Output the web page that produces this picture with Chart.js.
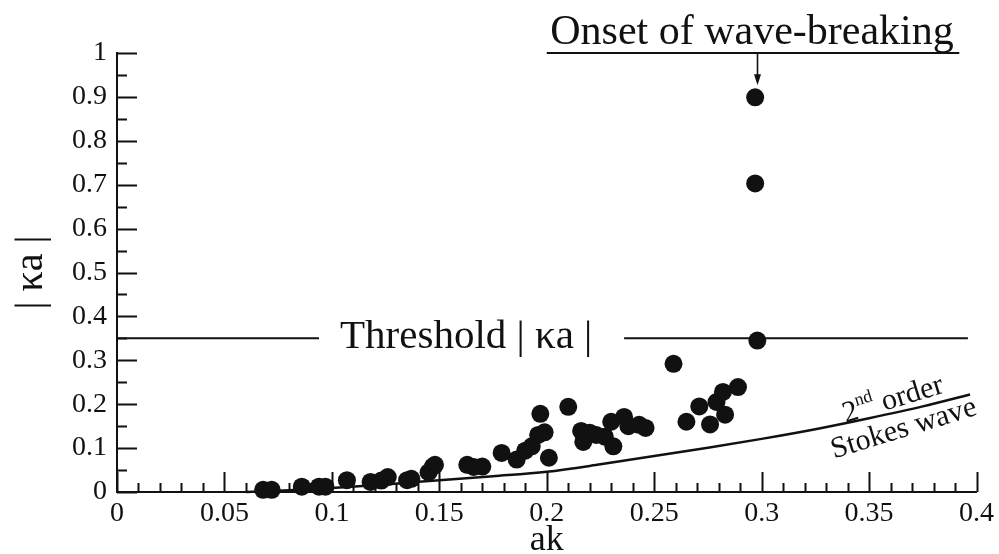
<!DOCTYPE html>
<html>
<head>
<meta charset="utf-8">
<script src="https://cdn.jsdelivr.net/npm/chart.js@4.4.1/dist/chart.umd.min.js"></script>
<style>
  html, body { margin: 0; padding: 0; background: #ffffff; }
  #wrap { width: 999px; height: 554px; }
</style>
</head>
<body>
<div id="wrap"><canvas id="chart" width="999" height="554"></canvas></div>
<script>
// Measured wave steepness ak and curvature |κa|
const akValues = [
  0.068, 0.072, 0.086, 0.094, 0.097, 0.107, 0.118, 0.123, 0.126, 0.135,
  0.137, 0.145, 0.147, 0.148, 0.163, 0.166, 0.170, 0.179, 0.186, 0.190,
  0.193, 0.196, 0.197, 0.199, 0.201, 0.210, 0.216, 0.217, 0.220, 0.223,
  0.227, 0.230, 0.231, 0.236, 0.238, 0.243, 0.246, 0.259, 0.265, 0.271,
  0.276, 0.279, 0.282, 0.283, 0.289, 0.298, 0.297, 0.297
];
const kaValues = [
  0.005, 0.005, 0.012, 0.012, 0.012, 0.027, 0.023, 0.026, 0.034, 0.027,
  0.030, 0.045, 0.058, 0.062, 0.062, 0.057, 0.058, 0.089, 0.074, 0.094,
  0.104, 0.130, 0.178, 0.136, 0.078, 0.194, 0.139, 0.114, 0.135, 0.130,
  0.126, 0.160, 0.104, 0.171, 0.150, 0.153, 0.146, 0.292, 0.160, 0.195,
  0.154, 0.205, 0.228, 0.176, 0.239, 0.345, 0.703, 0.899
];

// Second-order Stokes wave curve
const stokesAk = [0.060, 0.080, 0.100, 0.125, 0.150, 0.175, 0.200, 0.225, 0.250, 0.275, 0.300, 0.325, 0.350, 0.375, 0.397];
const stokesKa = [0.000, 0.004, 0.009, 0.017, 0.027, 0.036, 0.046, 0.063, 0.082, 0.101, 0.121, 0.143, 0.168, 0.195, 0.222];

// Threshold |κa| and the segments of its reference line
const thresholdKa = 0.35;
const thresholdLeftAk = [0.0, 0.094];
const thresholdRightAk = [0.236, 0.396];

// Onset of wave-breaking marker
const onsetLineKa = 1.0;
const onsetLineAk = [0.200, 0.392];
const onsetAk = 0.298;
const onsetKa = 0.899;

// Axis ticks
const xTicks = [0, 0.05, 0.1, 0.15, 0.2, 0.25, 0.3, 0.35, 0.4];
const xTickLabels = ['0', '0.05', '0.1', '0.15', '0.2', '0.25', '0.3', '0.35', '0.4'];
const yTicks = [0, 0.1, 0.2, 0.3, 0.4, 0.5, 0.6, 0.7, 0.8, 0.9, 1];
const yTickLabels = ['0', '0.1', '0.2', '0.3', '0.4', '0.5', '0.6', '0.7', '0.8', '0.9', '1'];

const INK = '#111111';
const SERIF = "'Liberation Serif', 'Times New Roman', serif";
Chart.defaults.font.family = SERIF;
Chart.defaults.color = INK;

const pts = (xs, ys) => xs.map((x, i) => ({ x: x, y: ys[i] }));

// Inward tick marks, annotations and arrow
const decor = {
  id: 'decor',
  beforeDatasetsDraw(chart) {
    const { ctx, chartArea: a, scales: { x, y } } = chart;
    ctx.save();
    ctx.strokeStyle = INK;
    ctx.lineWidth = 2;
    ctx.beginPath();
    for (let i = 0; i <= 40; i++) {
      const px = Math.round(x.getPixelForValue(i / 100)) + 0.5;
      const len = (i % 5 === 0) ? 20 : 9;
      ctx.moveTo(px, a.bottom);
      ctx.lineTo(px, a.bottom - len);
    }
    for (let i = 0; i <= 20; i++) {
      const py = Math.round(y.getPixelForValue(i / 20)) + 0.5;
      const len = (i % 2 === 0) ? 20 : 10;
      ctx.moveTo(a.left, py);
      ctx.lineTo(a.left + len, py);
    }
    ctx.stroke();
    ctx.restore();
  },
  afterDraw(chart) {
    const { ctx, scales: { x, y } } = chart;
    ctx.save();
    ctx.fillStyle = INK;
    ctx.strokeStyle = INK;

    // Threshold label sits in the gap of its line
    ctx.font = '41px ' + SERIF;
    ctx.textAlign = 'center';
    ctx.textBaseline = 'middle';
    ctx.fillText('Threshold | κa |', x.getPixelForValue(0.1625), y.getPixelForValue(thresholdKa) - 1);

    // Onset of wave-breaking heading
    ctx.font = '42px ' + SERIF;
    ctx.textBaseline = 'alphabetic';
    ctx.fillText('Onset of wave-breaking', x.getPixelForValue(0.2955), y.getPixelForValue(onsetLineKa) - 9);

    // Arrow from the heading line to the breaking point
    const ax = Math.round(x.getPixelForValue(onsetAk)) + 0.5;
    const y0 = y.getPixelForValue(onsetLineKa);
    const y1 = y.getPixelForValue(onsetKa) - 12;
    ctx.lineWidth = 1.6;
    ctx.beginPath();
    ctx.moveTo(ax, y0);
    ctx.lineTo(ax, y1 - 8);
    ctx.stroke();
    ctx.beginPath();
    ctx.moveTo(ax - 3.5, y1 - 11);
    ctx.lineTo(ax + 3.5, y1 - 11);
    ctx.lineTo(ax, y1);
    ctx.closePath();
    ctx.fill();

    // Curve label, rotated along the Stokes line
    const ang = -17 * Math.PI / 180;
    ctx.textBaseline = 'alphabetic';
    ctx.save();
    ctx.translate(x.getPixelForValue(0.361), y.getPixelForValue(0.212));
    ctx.rotate(ang);
    ctx.font = '30px ' + SERIF;
    const w2 = ctx.measureText('2').width;
    ctx.font = '18px ' + SERIF;
    const wnd = ctx.measureText('nd').width;
    ctx.font = '30px ' + SERIF;
    const wor = ctx.measureText(' order').width;
    let cx = -(w2 + wnd + wor) / 2;
    ctx.textAlign = 'left';
    ctx.fillText('2', cx, 9);
    cx += w2;
    ctx.font = '18px ' + SERIF;
    ctx.fillText('nd', cx, -4);
    cx += wnd;
    ctx.font = '30px ' + SERIF;
    ctx.fillText(' order', cx, 9);
    ctx.restore();

    ctx.save();
    ctx.translate(x.getPixelForValue(0.366), y.getPixelForValue(0.146));
    ctx.rotate(ang);
    ctx.font = '30px ' + SERIF;
    ctx.textAlign = 'center';
    ctx.fillText('Stokes wave', 0, 9);
    ctx.restore();

    ctx.restore();
  }
};

new Chart(document.getElementById('chart'), {
  type: 'scatter',
  data: {
    datasets: [
      {
        label: 'Measured',
        data: pts(akValues, kaValues),
        pointRadius: 9,
        pointHoverRadius: 9,
        pointBackgroundColor: INK,
        pointBorderColor: INK,
        pointBorderWidth: 0,
        showLine: false,
        clip: false
      },
      {
        label: '2nd order Stokes wave',
        data: pts(stokesAk, stokesKa),
        showLine: true,
        borderColor: INK,
        borderWidth: 2.5,
        pointRadius: 0,
        cubicInterpolationMode: 'monotone',
        clip: false
      },
      {
        label: 'Threshold left',
        data: thresholdLeftAk.map(v => ({ x: v, y: thresholdKa })),
        showLine: true,
        borderColor: INK,
        borderWidth: 2,
        pointRadius: 0,
        clip: false
      },
      {
        label: 'Threshold right',
        data: thresholdRightAk.map(v => ({ x: v, y: thresholdKa })),
        showLine: true,
        borderColor: INK,
        borderWidth: 2,
        pointRadius: 0,
        clip: false
      },
      {
        label: 'Onset line',
        data: onsetLineAk.map(v => ({ x: v, y: onsetLineKa })),
        showLine: true,
        borderColor: INK,
        borderWidth: 2,
        pointRadius: 0,
        clip: false
      }
    ]
  },
  options: {
    responsive: false,
    animation: false,
    events: [],
    layout: { padding: { left: 0, top: 53, right: 21, bottom: 0 } },
    plugins: {
      legend: { display: false },
      tooltip: { enabled: false }
    },
    scales: {
      x: {
        type: 'linear',
        min: 0,
        max: 0.4,
        afterBuildTicks: s => { s.ticks = xTicks.map(v => ({ value: v })); },
        afterFit: s => { s.height = 62; },
        grid: { display: false, drawTicks: false },
        border: { display: true, color: INK, width: 2 },
        ticks: {
          font: { size: 28 },
          color: INK,
          padding: 5,
          maxRotation: 0,
          autoSkip: false,
          callback: (v, i) => xTickLabels[i]
        },
        title: {
          display: true,
          text: 'ak',
          font: { size: 36, lineHeight: 1 },
          color: INK,
          padding: { top: 0, bottom: -5 }
        }
      },
      y: {
        type: 'linear',
        min: 0,
        max: 1,
        afterBuildTicks: s => { s.ticks = yTicks.map(v => ({ value: v })); },
        afterFit: s => { s.width = 117; },
        grid: { display: false, drawTicks: false },
        border: { display: true, color: INK, width: 2 },
        ticks: {
          font: { size: 28 },
          color: INK,
          padding: 10,
          autoSkip: false,
          callback: (v, i) => yTickLabels[i]
        },
        title: {
          display: true,
          text: '| κa |',
          font: { size: 40 },
          color: INK,
          padding: { top: 7, bottom: 0 }
        }
      }
    }
  },
  plugins: [decor]
});
</script>
</body>
</html>
